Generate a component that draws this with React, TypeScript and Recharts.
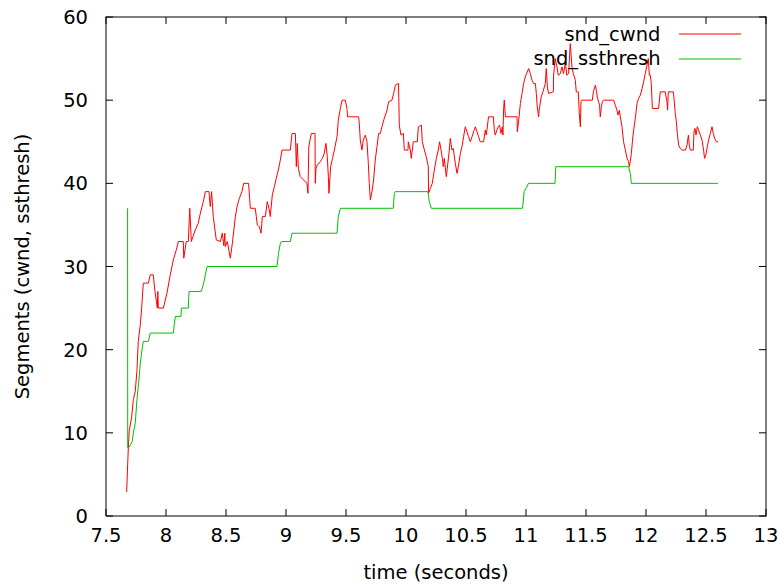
import { LineChart, Line, XAxis, YAxis, Legend } from "recharts";

// time (s), segments
const cwndPoints: [number, number][] = [
  [7.672, 2.9], [7.686, 8.2], [7.694, 10.3], [7.713, 11.8], [7.728, 14], [7.744, 15],
  [7.758, 17.5], [7.769, 21], [7.786, 23], [7.797, 25], [7.811, 28], [7.853, 28],
  [7.869, 29], [7.894, 29], [7.908, 27], [7.928, 25], [7.932, 27], [7.936, 25],
  [7.978, 25], [8.008, 26.8], [8.033, 28.8], [8.061, 30.8], [8.086, 32], [8.103, 33],
  [8.144, 33], [8.148, 31], [8.169, 33], [8.186, 33], [8.198, 37], [8.211, 33],
  [8.244, 34.4], [8.269, 35.2], [8.286, 36.4], [8.311, 37.8], [8.328, 39], [8.358, 39],
  [8.369, 37.2], [8.38, 39], [8.394, 36], [8.419, 33.2], [8.453, 33], [8.469, 34],
  [8.482, 32.5], [8.49, 34], [8.494, 32.4], [8.511, 33], [8.536, 31], [8.553, 32.8],
  [8.578, 36], [8.592, 37.2], [8.611, 38.2], [8.633, 39], [8.647, 40], [8.688, 40],
  [8.703, 37], [8.744, 37], [8.761, 35], [8.778, 34.8], [8.792, 34], [8.803, 36],
  [8.828, 36], [8.844, 37.8], [8.861, 36.8], [8.869, 36], [8.886, 38.6], [8.903, 39.6],
  [8.919, 40.6], [8.936, 41.6], [8.95, 42.6], [8.967, 44], [9.036, 44], [9.05, 46],
  [9.078, 46], [9.086, 42], [9.094, 44.8], [9.103, 41.8], [9.119, 40.8], [9.175, 40],
  [9.183, 38.8], [9.19, 44.4], [9.211, 46], [9.242, 46], [9.244, 40], [9.25, 41.8],
  [9.261, 42.2], [9.286, 42.6], [9.303, 43], [9.319, 43.6], [9.333, 44.8], [9.344, 43.2],
  [9.353, 40.8], [9.358, 38.8], [9.372, 42], [9.388, 43], [9.403, 44], [9.425, 45.6],
  [9.436, 47.6], [9.453, 49], [9.467, 50], [9.494, 50], [9.508, 49], [9.513, 48],
  [9.605, 48], [9.611, 47.2], [9.619, 45.2], [9.633, 44], [9.644, 45.2], [9.661, 45.8],
  [9.675, 45], [9.686, 42.4], [9.694, 40], [9.703, 38], [9.719, 39.2], [9.73, 40.4],
  [9.744, 42.8], [9.758, 44.4], [9.772, 46], [9.786, 46], [9.803, 47], [9.819, 47.8],
  [9.842, 48.8], [9.855, 49.8], [9.883, 50], [9.897, 50.8], [9.911, 51.8], [9.938, 52],
  [9.944, 47], [9.958, 45.8], [9.978, 46], [9.986, 44], [10.017, 44], [10.019, 45],
  [10.036, 44], [10.044, 43], [10.061, 45], [10.094, 45], [10.103, 46.8], [10.128, 47],
  [10.136, 45], [10.153, 44], [10.169, 43.2], [10.186, 42], [10.188, 38.8], [10.203, 39.4],
  [10.219, 40], [10.236, 41.6], [10.253, 43], [10.269, 44], [10.28, 45], [10.292, 44],
  [10.303, 43], [10.311, 42], [10.319, 43], [10.336, 40.8], [10.344, 41.8], [10.361, 44],
  [10.369, 45.4], [10.383, 44], [10.394, 44.2], [10.411, 42.4], [10.425, 41.2], [10.436, 42],
  [10.453, 43.6], [10.469, 44.6], [10.48, 45.6], [10.494, 46.8], [10.508, 46.2], [10.522, 45.6],
  [10.536, 45], [10.55, 45.6], [10.563, 46.2], [10.578, 46.8], [10.592, 46.2], [10.605, 45.6],
  [10.619, 45], [10.647, 45], [10.661, 46.4], [10.669, 45.8], [10.688, 48], [10.728, 48],
  [10.736, 46.4], [10.744, 45.8], [10.758, 46.4], [10.769, 46.8], [10.78, 47], [10.792, 46],
  [10.803, 46.8], [10.808, 45.8], [10.813, 48.8], [10.819, 50], [10.828, 48], [10.925, 48],
  [10.928, 46.2], [10.938, 47.4], [10.953, 49.6], [10.967, 50.8], [10.98, 52], [10.994, 52.8],
  [11.022, 53.8], [11.036, 53.2], [11.05, 52.4], [11.063, 52], [11.078, 52], [11.086, 50.8],
  [11.094, 49.2], [11.105, 48], [11.11, 48.8], [11.127, 50.4], [11.141, 51], [11.161, 52],
  [11.169, 53.8], [11.178, 51.6], [11.188, 50.8], [11.228, 51], [11.23, 53], [11.244, 55],
  [11.258, 54], [11.269, 53], [11.286, 53.2], [11.3, 54], [11.313, 53.2], [11.328, 54.5],
  [11.34, 53], [11.355, 53.2], [11.369, 56.8], [11.383, 54], [11.394, 53.2], [11.411, 52.4],
  [11.419, 51], [11.436, 51], [11.444, 48.4], [11.453, 46.8], [11.458, 49.8], [11.467, 50],
  [11.553, 50], [11.561, 51], [11.578, 51.8], [11.586, 51.2], [11.594, 50.4], [11.605, 49.8],
  [11.613, 49.4], [11.619, 48], [11.628, 49.2], [11.636, 49.8], [11.647, 50], [11.73, 50],
  [11.744, 49.4], [11.758, 48.8], [11.767, 48.2], [11.778, 48.8], [11.786, 48], [11.8, 46.8],
  [11.813, 45], [11.828, 44], [11.842, 43], [11.855, 42.6], [11.861, 42], [11.869, 42.6],
  [11.878, 43.6], [11.888, 45.2], [11.897, 46.4], [11.911, 47.8], [11.925, 49.6], [11.938, 50.2],
  [11.953, 50.6], [11.967, 51.4], [11.98, 52.2], [11.994, 53.2], [12.008, 54.2], [12.019, 55],
  [12.028, 53], [12.036, 53], [12.044, 52], [12.053, 49], [12.105, 49], [12.119, 51],
  [12.16, 51], [12.175, 49.8], [12.18, 48.8], [12.186, 51], [12.228, 51], [12.236, 49.8],
  [12.244, 48.4], [12.253, 47.4], [12.261, 46], [12.272, 44.6], [12.286, 44.2], [12.3, 44],
  [12.328, 44], [12.342, 44.6], [12.353, 45.8], [12.361, 44.6], [12.369, 44], [12.394, 44],
  [12.4, 46.2], [12.408, 46.6], [12.417, 45.8], [12.428, 46.8], [12.438, 46.4], [12.453, 45.8],
  [12.467, 45.2], [12.48, 44], [12.488, 43], [12.5, 43.5], [12.511, 44.4], [12.522, 45.2],
  [12.536, 46], [12.55, 46.8], [12.561, 46], [12.572, 45.4], [12.586, 45], [12.6, 45],
];

const ssthreshPoints: [number, number][] = [
  [7.68, 37], [7.681, 8.2], [7.694, 8.3], [7.717, 8.9], [7.728, 10], [7.744, 11.2],
  [7.758, 14], [7.772, 16], [7.786, 18.4], [7.8, 20], [7.811, 21], [7.853, 21],
  [7.869, 22], [8.061, 22], [8.069, 23], [8.078, 24], [8.125, 24], [8.128, 25],
  [8.186, 25], [8.192, 27], [8.294, 27], [8.311, 27.8], [8.328, 29], [8.342, 30],
  [8.925, 30], [8.938, 31.6], [8.953, 32.8], [8.961, 33], [9.036, 33], [9.05, 34],
  [9.425, 34], [9.436, 36], [9.453, 37], [9.894, 37], [9.903, 38.8], [9.911, 39],
  [10.183, 39], [10.194, 37.8], [10.211, 37], [10.971, 37], [10.985, 39], [11.022, 40],
  [11.242, 40], [11.248, 42], [11.855, 42], [11.869, 41.2], [11.878, 40], [12.6, 40],
];

const timeTicks = [7.5, 8, 8.5, 9, 9.5, 10, 10.5, 11, 11.5, 12, 12.5, 13];
const segmentTicks = [0, 10, 20, 30, 40, 50, 60];
const X_DOMAIN: [number, number] = [7.5, 13];
const Y_DOMAIN: [number, number] = [0, 60];

const cwndData = cwndPoints.map(([t, v]) => ({ t, v }));
const ssthreshData = ssthreshPoints.map(([t, v]) => ({ t, v }));

const FONT = "DejaVu Sans";
const FS = 19.5;
const TICK = 7;
const INK = "#000000";

const W = 771;
const H = 577;
const MARGIN = { top: 9, right: 13, bottom: 0, left: 0 };
const Y_AXIS_W = 98;
const X_AXIS_H = 69;
// plot box, from the margins and axis sizes above
const PLOT = {
  left: MARGIN.left + Y_AXIS_W,
  right: W - MARGIN.right,
  top: MARGIN.top,
  bottom: H - MARGIN.bottom - X_AXIS_H,
};

const BottomLabel = (props: any) => {
  const { x, y, payload } = props;
  return (
    <text x={x} y={y + 25.5} textAnchor="middle" fontFamily={FONT} fontSize={FS} fill={INK}>
      {payload.value}
    </text>
  );
};

const LeftLabel = (props: any) => {
  const { x, y, payload } = props;
  return (
    <text x={x - 18} y={y + 7} textAnchor="end" fontFamily={FONT} fontSize={FS} fill={INK}>
      {payload.value}
    </text>
  );
};

const XTitle = (props: any) => {
  const vb = props.viewBox;
  return (
    <text x={vb.x + vb.width / 2} y={vb.y + 63} textAnchor="middle" fontFamily={FONT} fontSize={FS} fill={INK}>
      time (seconds)
    </text>
  );
};

const YTitle = (props: any) => {
  const vb = props.viewBox;
  const cy = vb.y + vb.height / 2;
  return (
    <text x={21} y={cy} transform={`rotate(-90, 21, ${cy})`} textAnchor="middle" fontFamily={FONT} fontSize={FS} fill={INK}>
      Segments (cwnd, ssthresh)
    </text>
  );
};

// frame and inward ticks as thin filled bars (gnuplot style)
const Bar1 = ({ x, y, w, h }: { x: number; y: number; w: number; h: number }) => (
  <rect x={x} y={y} width={w} height={h} fill={INK} />
);

const Overlay = (props: any) => {
  const items = props.payload || [];
  const textY = [32.5, 56.5];
  const lineY = [26, 51];
  const px = (t: number) =>
    PLOT.left + ((t - X_DOMAIN[0]) / (X_DOMAIN[1] - X_DOMAIN[0])) * (PLOT.right - PLOT.left);
  const py = (v: number) =>
    PLOT.bottom - ((v - Y_DOMAIN[0]) / (Y_DOMAIN[1] - Y_DOMAIN[0])) * (PLOT.bottom - PLOT.top);
  return (
    <svg width={W} height={H} style={{ display: "block", pointerEvents: "none" }}>
      <Bar1 x={PLOT.left - 0.5} y={PLOT.top - 0.5} w={PLOT.right - PLOT.left + 1} h={1} />
      <Bar1 x={PLOT.right - 0.5} y={PLOT.top - 0.5} w={1} h={PLOT.bottom - PLOT.top + 1} />
      {timeTicks.map((t) => (
        <g key={`xt-${t}`}>
          <Bar1 x={px(t) - 0.5} y={PLOT.bottom - TICK} w={1} h={TICK} />
          <Bar1 x={px(t) - 0.5} y={PLOT.top} w={1} h={TICK} />
        </g>
      ))}
      {segmentTicks.map((v) => (
        <g key={`yt-${v}`}>
          <Bar1 x={PLOT.left} y={py(v) - 0.5} w={TICK} h={1} />
          <Bar1 x={PLOT.right - TICK} y={py(v) - 0.5} w={TICK} h={1} />
        </g>
      ))}
      {items.map((entry: any, i: number) => (
        <g key={entry.value}>
          <text x={652.5} y={textY[i]} textAnchor="end" fontFamily={FONT} fontSize={FS} fill={INK}>
            {entry.value}
          </text>
          <line x1={671} x2={733} y1={lineY[i]} y2={lineY[i]} stroke={entry.color} strokeWidth={1} />
        </g>
      ))}
    </svg>
  );
};

export default function App() {
  return (
    <div style={{ padding: "8px 0 0 8px", width: W, height: H }}>
      <style>{"body { margin: 0; }"}</style>
      <LineChart width={W} height={H} margin={MARGIN}>
        <XAxis
          dataKey="t"
          type="number"
          domain={X_DOMAIN}
          ticks={timeTicks}
          allowDataOverflow
          height={X_AXIS_H}
          tickSize={0}
          tickMargin={0}
          tickLine={false}
          tick={<BottomLabel />}
          stroke={INK}
          label={{ content: XTitle }}
        />
        <YAxis
          type="number"
          domain={Y_DOMAIN}
          ticks={segmentTicks}
          allowDataOverflow
          width={Y_AXIS_W}
          tickSize={0}
          tickMargin={0}
          tickLine={false}
          tick={<LeftLabel />}
          stroke={INK}
          label={{ content: YTitle }}
        />
        <Legend
          layout="horizontal"
          verticalAlign="middle"
          align="center"
          width={W}
          height={H}
          wrapperStyle={{ left: 0, top: 0 }}
          content={Overlay}
        />
        <Line
          data={cwndData}
          dataKey="v"
          name="snd_cwnd"
          type="linear"
          stroke="#ff0000"
          strokeWidth={1}
          dot={false}
          activeDot={false}
          isAnimationActive={false}
        />
        <Line
          data={ssthreshData}
          dataKey="v"
          name="snd_ssthresh"
          type="linear"
          stroke="#00c000"
          strokeWidth={1}
          dot={false}
          activeDot={false}
          isAnimationActive={false}
        />
      </LineChart>
    </div>
  );
}
